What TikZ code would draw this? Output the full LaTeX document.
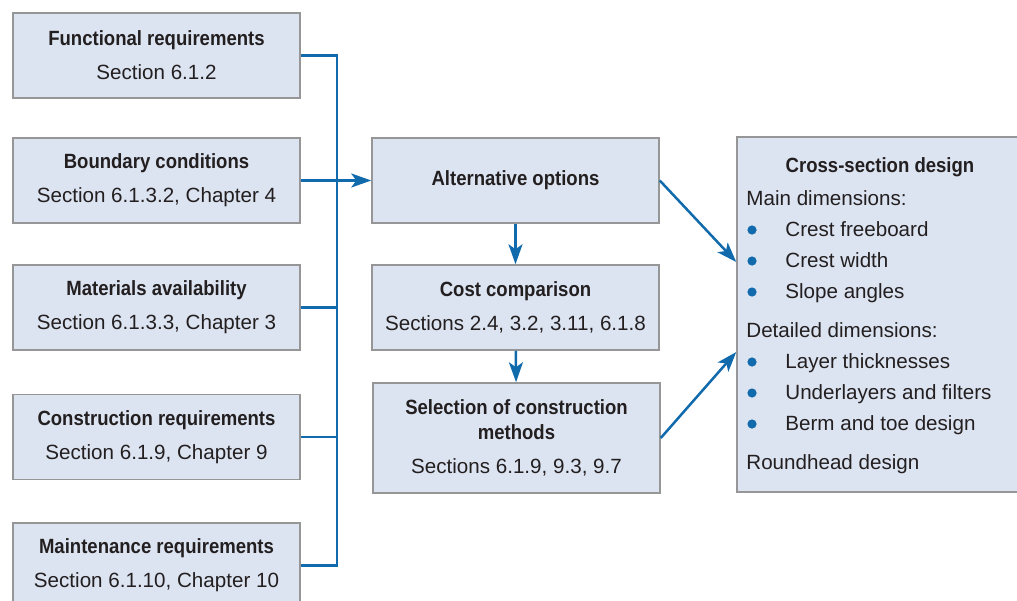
\documentclass[tikz,border=0pt]{standalone}
\usepackage{fontspec}
\setmainfont{Liberation Sans}
\newfontfamily\headfont[FakeStretch=0.9]{Liberation Sans}
\usetikzlibrary{arrows.meta,calc}
\definecolor{boxfill}{RGB}{220,228,241}
\definecolor{boxline}{RGB}{150,150,150}
\definecolor{flowblue}{RGB}{16,106,172}
\definecolor{ink}{RGB}{35,31,32}
\newcommand{\hd}[1]{{\headfont\bfseries #1}}

\begin{document}
\begin{tikzpicture}[x=0.5pt,y=-0.5pt,
		reqbox/.style={draw=boxline, line width=0.75pt, fill=boxfill, text=ink,
			minimum width=143.5pt, minimum height=42.5pt, inner sep=0pt, align=center,
			font=\fontsize{10.3pt}{17pt}\selectfont},
		listline/.style={text=ink, inner sep=0pt, anchor=base west,
			font=\fontsize{10.3pt}{12pt}\selectfont},
		link/.style={flowblue, line width=1.25pt},
		flow/.style={link, -{Stealth[length=10pt,width=7pt,inset=2.5pt]}}]
    % \draw[help lines] (0,0) grid[step=50] (1017,600);
		\useasboundingbox (0,0) rectangle (1017,600);
		\node[reqbox] (func)   at (156.5,55.5)  {\hd{Functional requirements}\\Section 6.1.2};
		\node[reqbox] (bound)  at (156.5,180.5) {\hd{Boundary conditions}\\Section 6.1.3.2, Chapter 4};
		\node[reqbox] (mat)    at (156.5,307.5) {\hd{Materials availability}\\Section 6.1.3.3, Chapter 3};
		\node[reqbox] (constr) at (156.5,437)   {\hd{Construction requirements}\\Section 6.1.9, Chapter 9};
		\node[reqbox] (maint)  at (156.5,565.5) {\hd{Maintenance requirements}\\Section 6.1.10, Chapter 10};
		\node[reqbox] (alt)    at (515.5,180.5) {\hd{Alternative options}};
		\node[reqbox] (cost)   at (515.5,307.5) {\hd{Cost comparison}\\Sections 2.4, 3.2, 3.11, 6.1.8};
		\node[reqbox, minimum height=55pt] (sel) at (516.5,438)
		    {\hd{Selection of construction}\\[-4.5pt]\hd{methods}\\Sections 6.1.9, 9.3, 9.7};
		\node[reqbox, minimum width=143pt, minimum height=177.5pt] (design) at (880,314.5) {};
		\node[text=ink, inner sep=0pt, anchor=base,
		    font=\fontsize{10.3pt}{12pt}\selectfont\headfont\bfseries] (designhead) at (880,172) {Cross-section design};
		\node[listline] (maindim)   at (746,205) {Main dimensions:};
		\node[listline] (detdim)    at (746,337) {Detailed dimensions:};
		\node[listline] (roundhead) at (746,469) {Roundhead design};
		\foreach \y/\t in {236/Crest freeboard, 267/Crest width, 298/Slope angles,
		    368/Layer thicknesses, 399/Underlayers and filters, 430/Berm and toe design} {
			\fill[flowblue] (752,\y-6) circle (2.3pt);
			\node[listline] at (785,\y) {\t};
		}
		\coordinate (bus) at (337,182);
		\draw[link]  (func.east) -| (bus) |- (maint.east);
		\draw[link]  (mat.east) -| (bus);
		\draw[link]  (constr.east) -| (bus);
		\draw[flow]  (bound.east) -- (alt.west);
		\draw[flow]  (alt) -- (cost);
		\draw[flow]  (cost) -- (sel);
		\draw[flow]  (alt.east) -- ($(design.west)+(0,-52.5)$);
		\draw[flow]  (sel.east) -- ($(design.west)+(0,37.5)$);
\end{tikzpicture}
\end{document}
